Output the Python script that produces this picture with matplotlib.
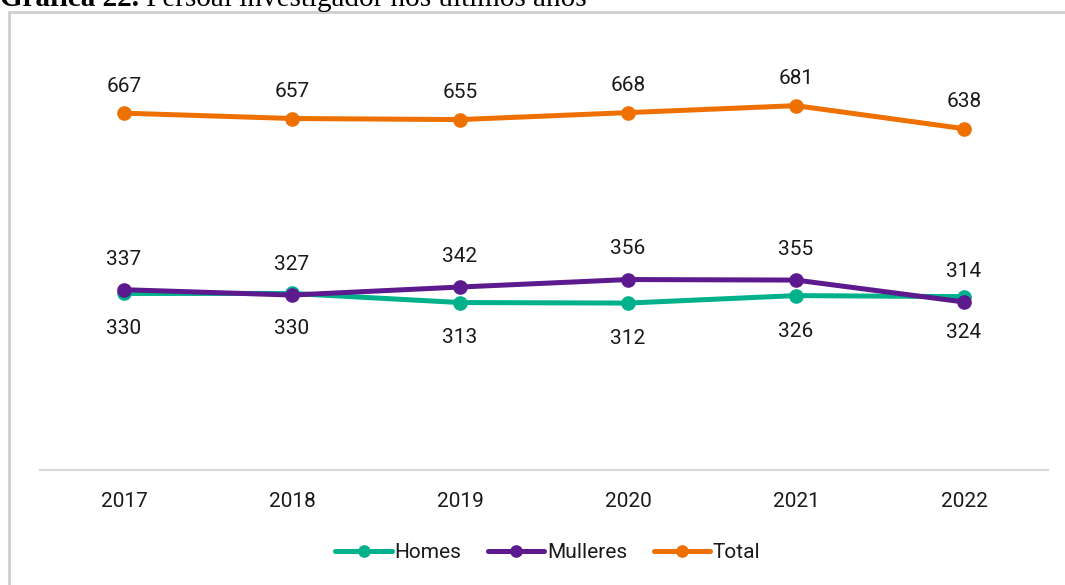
import matplotlib
matplotlib.use("Agg")
import matplotlib.pyplot as plt
from matplotlib.patches import Rectangle

plt.rcParams['font.family'] = ['Roboto', 'DejaVu Sans']

years = ['2017', '2018', '2019', '2020', '2021', '2022']
homes = [330, 330, 313, 312, 326, 324]
mulleres = [337, 327, 342, 356, 355, 314]
total = [667, 657, 655, 668, 681, 638]

c_homes = '#00B18C'
c_mulleres = '#5C1A8E'
c_total = '#EE7000'

W, H = 1065, 585
fig = plt.figure(figsize=(W / 100, H / 100), dpi=100)
ax = fig.add_axes([40 / W, 1 - 470 / H, 1008 / W, 428 / H])

x = list(range(len(years)))
lw = 3.6
ms = 9.5
ax.plot(x, homes, color=c_homes, lw=lw, marker='o', ms=ms, label='Homes',
        solid_capstyle='round', zorder=3)
ax.plot(x, mulleres, color=c_mulleres, lw=lw, marker='o', ms=ms, label='Mulleres',
        solid_capstyle='round', zorder=4)
ax.plot(x, total, color=c_total, lw=lw, marker='o', ms=ms, label='Total',
        solid_capstyle='round', zorder=3)

# value labels: women and total above, men below
fs = 15
for i in x:
    ax.annotate(str(total[i]), (i, total[i]), xytext=(0, 19.5), textcoords='offset points',
                ha='center', va='center', fontsize=fs, color='#1a1a1a')
    ax.annotate(str(mulleres[i]), (i, mulleres[i]), xytext=(0, 22), textcoords='offset points',
                ha='center', va='center', fontsize=fs, color='#1a1a1a')
    ax.annotate(str(homes[i]), (i, homes[i]), xytext=(0, -25.5), textcoords='offset points',
                ha='center', va='center', fontsize=fs, color='#1a1a1a')

ax.set_xlim(-0.5, len(years) - 0.5)
ax.set_ylim(0, 800)
ax.set_xticks(x)
ax.set_xticklabels(years, fontsize=fs, color='#1a1a1a')
ax.tick_params(axis='x', length=0, pad=16)
ax.set_yticks([])
for s in ['top', 'right', 'left']:
    ax.spines[s].set_visible(False)
ax.spines['bottom'].set_color('#d9d9d9')
ax.spines['bottom'].set_linewidth(1.5)
ax.patch.set_alpha(0)

leg = fig.legend(loc='center', bbox_to_anchor=(548 / W, 1 - 553 / H), ncol=3,
                 frameon=False, fontsize=15, handlelength=2.7, handletextpad=0.12,
                 columnspacing=1.3, markerscale=0.85)
for t in leg.get_texts():
    t.set_color('#1a1a1a')

# chart frame
fig.patches.append(Rectangle((9 / W, -0.05), 1.1, 1 - 12 / H + 0.05,
                             transform=fig.transFigure, fill=False,
                             edgecolor='#cfcfcf', lw=2, zorder=0))

# caption, cut off at the top edge
t1 = fig.text(0, 1 - 6 / H, 'Gráfica 22.', family='Liberation Serif',
              fontweight='bold', fontsize=21, va='baseline', ha='left')
fig.canvas.draw()
bb = t1.get_window_extent(fig.canvas.get_renderer())
fig.text(bb.x1 / W, 1 - 6 / H, ' Persoal investigador nos últimos anos',
         family='Liberation Serif', fontsize=21, va='baseline', ha='left')

fig.savefig('out.png', dpi=100)
